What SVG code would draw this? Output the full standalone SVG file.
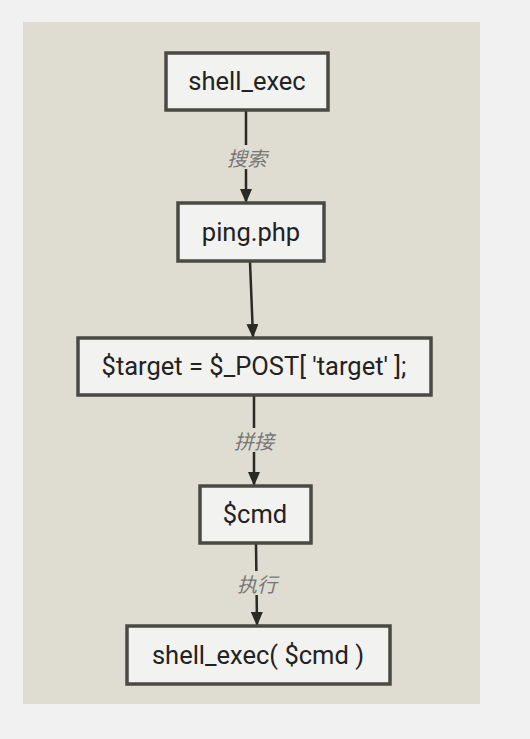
<svg xmlns="http://www.w3.org/2000/svg" width="530" height="739" viewBox="0 0 530 739">
<style>
.node rect{fill:#f2f2f0;stroke:#4a4a44;stroke-width:3.5}
.node text{font-family:Roboto,"Liberation Sans",sans-serif;font-size:25.5px;fill:#222;text-anchor:middle;dominant-baseline:central}
.lbl{font-family:"Noto Sans CJK SC",sans-serif;font-style:italic;font-size:20px;fill:#777;text-anchor:middle;dominant-baseline:central}
.edge{stroke:#2a2a24;stroke-width:2.5;fill:none;marker-end:url(#ah)}
</style>
<defs>
<marker id="ah" markerWidth="14" markerHeight="12" refX="13" refY="6" orient="auto" markerUnits="userSpaceOnUse">
<path d="M0,0 L14,6 L0,12 Z" fill="#2a2a24"/>
</marker>
</defs>
<rect x="0" y="0" width="530" height="739" fill="#f1f1f1"/>
<rect x="23" y="22" width="457" height="682" fill="#dfddd1"/>
<g id="connectors">
<path class="edge" d="M246,111 V202"/>
<rect x="224" y="145" width="46" height="24" fill="#dfddd1"/>
<text class="lbl" x="247" y="157">搜索</text>
<path class="edge" d="M250,262 L253,337"/>
<path class="edge" d="M254,396 V485"/>
<rect x="231" y="428" width="46" height="24" fill="#dfddd1"/>
<text class="lbl" x="254" y="440">拼接</text>
<path class="edge" d="M256,544 L257,625"/>
<rect x="234" y="571" width="46" height="24" fill="#dfddd1"/>
<text class="lbl" x="257" y="583">执行</text>
</g>
<g id="n1" class="node"><rect x="166" y="53" width="162" height="57"/><text x="247" y="81">shell_exec</text></g>
<g id="n2" class="node"><rect x="178" y="203" width="146" height="58"/><text x="251" y="232">ping.php</text></g>
<g id="n3" class="node"><rect x="78" y="338" width="353" height="57"/><text x="254" y="366">$target = $_POST[ 'target' ];</text></g>
<g id="n4" class="node"><rect x="200" y="486" width="111" height="57"/><text x="255" y="514">$cmd</text></g>
<g id="n5" class="node"><rect x="127" y="626" width="263" height="58"/><text x="258" y="655">shell_exec( $cmd )</text></g>
</svg>
